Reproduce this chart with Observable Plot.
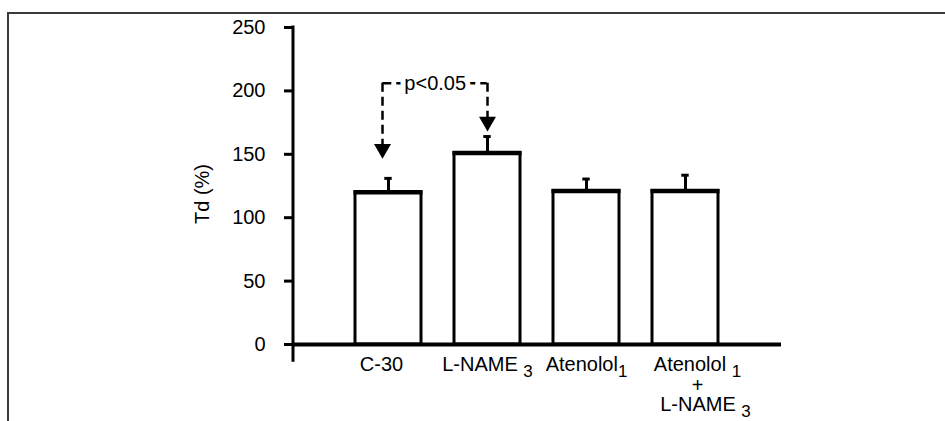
<!DOCTYPE html>
<html><head><meta charset="utf-8">
<script src="https://cdn.jsdelivr.net/npm/d3@7"></script>
<script src="https://cdn.jsdelivr.net/npm/@observablehq/plot@0.6"></script>
<style>
html,body{margin:0;padding:0;background:#fff;}
#wrap{position:relative;width:945px;height:421px;overflow:hidden;}
#wrap svg{position:absolute;left:0;top:0;}
#border{position:absolute;left:7px;top:12px;right:-5px;bottom:-5px;border-top:2px solid #3a3a3a;border-left:2px solid #3a3a3a;pointer-events:none;}
</style></head><body><div id="wrap"><div id="border"></div></div>
<script>
// ---- data ----
const categories = ["C-30", "L-NAME _3", "Atenolol_1", "Atenolol _1|+|L-NAME _3"];
const means = [120, 151, 121, 121];
const sems = [11, 13, 9.5, 12.5];
const yTicks = [0, 50, 100, 150, 200, 250];
const yLabel = "Td (%)";
const sigLabel = "p<0.05";
const sigPair = ["C-30", "L-NAME _3"];
const sigTips = [146.5, 168];
const sigTop = 206;
const axisExtent = [-14, 250];

// ---- layout ----
const W = 945, H = 421;
const M = {top: 27, right: 164, bottom: 77, left: 293};
const padIn = 0.33, padOut = 0.62;
const step = (W - M.left - M.right) / (categories.length - padIn + 2 * padOut);
const bw = step * (1 - padIn);
const font = "'Liberation Sans', Arial, Helvetica, sans-serif";
const arrowDx = [-6, 0];
const labelNudge = [[-7], [0], [0], [12, 12, 20]];
const lineY = [26, 47, 66];

const rows = categories.map((c, i) => ({cat: c, mean: means[i], sem: sems[i], hi: means[i] + sems[i]}));
const arrows = sigPair.map((c, i) => ({cat: c, tip: sigTips[i]}));
const NS = "http://www.w3.org/2000/svg";

function axisLine(...args) {
  const scales = args.find(a => a && typeof a.y === "function");
  const dims = args.find(a => a && typeof a.marginLeft === "number");
  const l = document.createElementNS(NS, "line");
  const x0 = dims.marginLeft;
  l.setAttribute("x1", x0); l.setAttribute("x2", x0);
  l.setAttribute("y1", scales.y(axisExtent[1]) - 1.5);
  l.setAttribute("y2", scales.y(axisExtent[0]));
  l.setAttribute("stroke", "black");
  l.setAttribute("stroke-width", 3);
  return l;
}

const svg = Plot.plot({
  width: W, height: H,
  marginTop: M.top, marginRight: M.right, marginBottom: M.bottom, marginLeft: M.left,
  style: {fontFamily: font, fontSize: "20px", background: "white", color: "black", overflow: "visible"},
  x: {type: "band", domain: categories, paddingInner: padIn, paddingOuter: padOut, align: 0.5},
  y: {domain: [0, 250]},
  marks: [
    Plot.barY(rows, {x: "cat", y: "mean", fill: "white", stroke: "black", strokeWidth: 3}),
    Plot.tickY(rows, {x: "cat", y: "mean", stroke: "black", strokeWidth: 4.5, insetLeft: -1.5, insetRight: -1.5}),
    Plot.ruleX(rows, {x: "cat", y1: "mean", y2: "hi", stroke: "black", strokeWidth: 3}),
    Plot.tickY(rows, {x: "cat", y: "hi", stroke: "black", strokeWidth: 3, insetLeft: bw / 2 - 4, insetRight: bw / 2 - 4}),
    Plot.ruleY([0], {stroke: "black", strokeWidth: 4}),
    Plot.axisY({ticks: yTicks, tickSize: 9, tickPadding: 19, strokeWidth: 3, fontSize: 20, label: null, tickFormat: d => String(d)}),
    Plot.axisX({tickSize: 0, tickPadding: 0, fontSize: 20, label: null}),
    axisLine,
    Plot.text([yLabel], {text: d => d, frameAnchor: "left", rotate: -90, dx: -91, dy: 8, fontSize: 20, textAnchor: "middle", lineAnchor: "middle", fill: "black"}),
    // significance bracket
    Plot.ruleY([sigTop], {y: d => d, x1: () => sigPair[0], x2: () => sigPair[1], insetLeft: bw / 2 - 6, insetRight: bw / 2, stroke: "black", strokeWidth: 2.5, strokeDasharray: "9,5"}),
    ...arrows.flatMap((a, i) => [
      Plot.ruleX([a], {x: "cat", y1: () => sigTop, y2: d => d.tip + 8, dx: arrowDx[i], stroke: "black", strokeWidth: 2.5, strokeDasharray: "9,5"}),
      Plot.dot([a], {x: "cat", y: "tip", symbol: "triangle", rotate: 180, r: 6.3, fill: "black", stroke: "none", dx: arrowDx[i], dy: -9.8})
    ]),
    Plot.text([sigLabel], {x: () => sigPair[0], y: () => sigTop, text: d => d, dx: (step - 6) / 2, fontSize: 20, fill: "white", stroke: "white", strokeWidth: 10}),
    Plot.text([sigLabel], {x: () => sigPair[0], y: () => sigTop, text: d => d, dx: (step - 6) / 2, fontSize: 20, fill: "black"})
  ]
});

// multi-line labels with subscripts
svg.querySelectorAll('[aria-label="x-axis tick label"] text').forEach(t => {
  const label = t.textContent;
  const idx = categories.indexOf(label);
  const nudge = labelNudge[idx] || [0];
  while (t.firstChild) t.removeChild(t.firstChild);
  t.removeAttribute("y"); t.removeAttribute("dy");
  t.style.whiteSpace = "pre";
  label.split("|").forEach((line, i) => {
    const [main, sub] = line.split("_");
    const m = document.createElementNS(NS, "tspan");
    m.setAttribute("x", nudge[i] || 0);
    m.setAttribute("y", lineY[i]);
    m.textContent = main;
    t.appendChild(m);
    if (sub) {
      const s = document.createElementNS(NS, "tspan");
      s.setAttribute("dy", 6);
      s.setAttribute("font-size", 17);
      s.textContent = sub;
      t.appendChild(s);
    }
  });
});

const wrap = document.getElementById("wrap");
wrap.insertBefore(svg, document.getElementById("border"));
</script></body></html>
